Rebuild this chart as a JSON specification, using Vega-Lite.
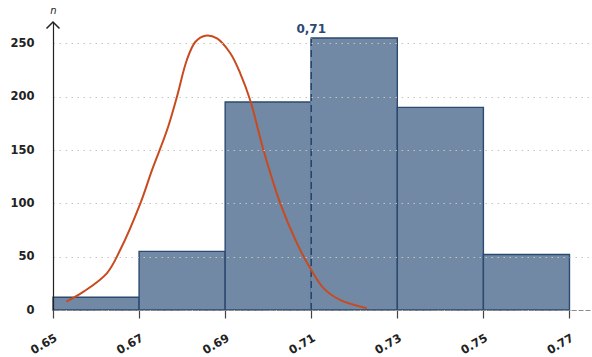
{
  "$schema": "https://vega.github.io/schema/vega-lite/v6.json",
  "width": 538,
  "height": 288,
  "autosize": {"type": "none"},
  "padding": {"left": 53, "top": 22, "right": 1, "bottom": 47},
  "background": "white",
  "config": {
    "view": {"stroke": null},
    "font": "DejaVu Sans"
  },
  "datasets": {
    "bins": [
      {"start": 0.65, "end": 0.67, "base": 0, "n": 12},
      {"start": 0.67, "end": 0.69, "base": 0, "n": 55},
      {"start": 0.69, "end": 0.71, "base": 0, "n": 195},
      {"start": 0.71, "end": 0.73, "base": 0, "n": 255},
      {"start": 0.73, "end": 0.75, "base": 0, "n": 190},
      {"start": 0.75, "end": 0.77, "base": 0, "n": 52}
    ],
    "curve": [
      {"x": 0.6531, "n": 7.8},
      {"x": 0.6571, "n": 17.2},
      {"x": 0.6625, "n": 34.4},
      {"x": 0.6656, "n": 56.2},
      {"x": 0.6703, "n": 100.0},
      {"x": 0.6730, "n": 131.2},
      {"x": 0.6765, "n": 168.7},
      {"x": 0.6788, "n": 200.0},
      {"x": 0.6811, "n": 234.4},
      {"x": 0.6831, "n": 251.5},
      {"x": 0.6854, "n": 257.2},
      {"x": 0.6881, "n": 254.7},
      {"x": 0.6912, "n": 240.7},
      {"x": 0.6935, "n": 221.9},
      {"x": 0.6958, "n": 196.9},
      {"x": 0.6989, "n": 150.0},
      {"x": 0.7028, "n": 100.0},
      {"x": 0.7067, "n": 62.5},
      {"x": 0.7100, "n": 37.5},
      {"x": 0.7129, "n": 20.3},
      {"x": 0.7167, "n": 9.4},
      {"x": 0.7229, "n": 1.6}
    ],
    "mode": [{"x": 0.71, "base": 0, "n": 255, "label": "0,71"}],
    "arrow": [{"x": 0.65, "n": 270}]
  },
  "layer": [
    {
      "data": {"name": "bins"},
      "mark": {"type": "rect", "fill": "#7189a5", "stroke": "#2b4a70", "strokeWidth": 1.4},
      "encoding": {
        "x": {
          "field": "start",
          "type": "quantitative",
          "scale": {"domain": [0.65, 0.775], "nice": false, "zero": false},
          "axis": {
            "title": null,
            "values": [0.65, 0.67, 0.69, 0.71, 0.73, 0.75, 0.77],
            "format": ".2f",
            "labelAngle": -30,
            "labelAlign": "right",
            "labelBaseline": "top",
            "labelFont": "DejaVu Sans",
            "labelFontWeight": "bold",
            "labelFontSize": 11.5,
            "labelColor": "#222222",
            "labelPadding": 14,
            "tickSize": 8,
            "tickColor": "#444444",
            "tickWidth": 1.2,
            "domainColor": "#8a8a8a",
            "domainDash": [5, 2],
            "domainWidth": 1.2,
            "grid": false,
            "zindex": 1
          }
        },
        "x2": {"field": "end"},
        "y": {
          "field": "n",
          "type": "quantitative",
          "scale": {"domain": [0, 270], "nice": false},
          "axis": {
            "title": "n",
            "titleAngle": 0,
            "titleX": 0,
            "titleY": -12,
            "titleAlign": "center",
            "titleBaseline": "middle",
            "titleFont": "DejaVu Sans",
            "titleFontStyle": "italic",
            "titleFontWeight": "normal",
            "titleFontSize": 10,
            "titleColor": "#222222",
            "values": [0, 50, 100, 150, 200, 250],
            "ticks": false,
            "labelPadding": 19,
            "labelFont": "DejaVu Sans",
            "labelFontWeight": "bold",
            "labelFontSize": 11.5,
            "labelColor": "#222222",
            "domainColor": "#222222",
            "domainWidth": 1.2,
            "grid": true,
            "gridColor": "#c4c4c4",
            "gridDash": [1.5, 4.5],
            "gridWidth": 1.2,
            "zindex": 1
          }
        },
        "y2": {"field": "base"}
      }
    },
    {
      "data": {"name": "mode"},
      "mark": {"type": "rule", "stroke": "#7189a5", "strokeWidth": 1.8},
      "encoding": {
        "x": {"field": "x", "type": "quantitative"},
        "y": {"field": "base", "type": "quantitative"},
        "y2": {"field": "n"}
      }
    },
    {
      "data": {"name": "mode"},
      "mark": {"type": "rule", "stroke": "#1f3d66", "strokeWidth": 1.3, "strokeDash": [7, 4]},
      "encoding": {
        "x": {"field": "x", "type": "quantitative"},
        "y": {"field": "base", "type": "quantitative"},
        "y2": {"field": "n"}
      }
    },
    {
      "data": {"name": "curve"},
      "mark": {"type": "line", "stroke": "#c94a1f", "strokeWidth": 2, "interpolate": "catmull-rom"},
      "encoding": {
        "x": {"field": "x", "type": "quantitative"},
        "y": {"field": "n", "type": "quantitative"}
      }
    },
    {
      "data": {"name": "mode"},
      "mark": {"type": "text", "font": "DejaVu Sans", "fontWeight": "bold", "fontSize": 12, "fill": "#2b4a73", "baseline": "alphabetic", "align": "center", "dy": -5},
      "encoding": {
        "x": {"field": "x", "type": "quantitative"},
        "y": {"field": "n", "type": "quantitative"},
        "text": {"field": "label", "type": "nominal"}
      }
    },
    {
      "data": {"name": "arrow"},
      "mark": {"type": "point", "shape": "M-1,1L0,0L1,1", "size": 169, "filled": false, "stroke": "#222222", "strokeWidth": 1.5, "opacity": 1},
      "encoding": {
        "x": {"field": "x", "type": "quantitative"},
        "y": {"field": "n", "type": "quantitative"}
      }
    }
  ]
}
